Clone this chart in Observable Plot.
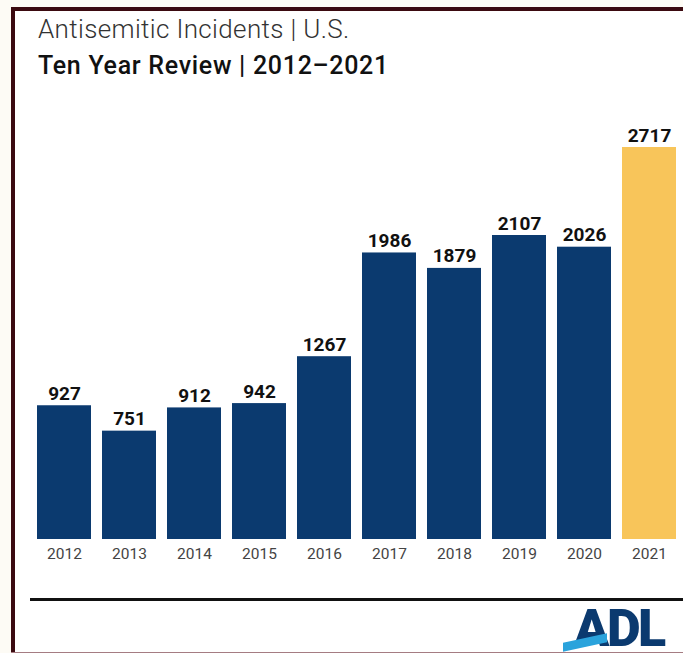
<!DOCTYPE html>
<html>
<head>
<meta charset="utf-8">
<script src="https://cdn.jsdelivr.net/npm/d3@7"></script>
<script src="https://cdn.jsdelivr.net/npm/@observablehq/plot@0.6"></script>
<style>
  html, body { margin: 0; padding: 0; }
  body { width: 683px; height: 653px; position: relative; overflow: hidden; background: #fdfbf5; font-family: Roboto, "Noto Sans", sans-serif; }
  #frame { position: absolute; left: 11px; top: 7px; right: 0; bottom: 0; background: #ffffff; border-left: 4px solid #3b0a10; border-top: 4px solid #3b0a10; }
  #bottomEdge { position: absolute; left: 11px; right: 0; top: 652px; height: 1px; background: #a57c82; z-index: 5; }
  #title { position: absolute; left: 38px; top: 16px; font-size: 26px; line-height: 26px; font-weight: 300; color: #333; letter-spacing: 0.35px; white-space: nowrap; }
  #subtitle { position: absolute; left: 38px; top: 53px; font-size: 25px; line-height: 25px; font-weight: 500; color: #111; letter-spacing: 0.7px; white-space: nowrap; }
  #chart { position: absolute; left: 0; top: 100px; }
  #rule { position: absolute; left: 30px; right: 0; top: 598px; height: 3px; background: #111; }
  #logo { position: absolute; left: 574px; top: 607px; font-size: 52px; line-height: 44px; height: 44px; font-weight: 900; color: #0b3a6f; letter-spacing: -2.5px; white-space: nowrap; font-family: Roboto, "Liberation Sans", sans-serif; }
  #slash { position: absolute; left: 563px; top: 638px; width: 44px; height: 9px; background: #2aa3dc; transform: skewY(-12deg); z-index: 2; }
</style>
</head>
<body>
<div id="frame"></div>
<div id="title">Antisemitic Incidents | U.S.</div>
<div id="subtitle">Ten Year Review | 2012–2021</div>
<div id="chart"></div>
<div id="rule"></div>
<div id="logo">ADL</div>
<div id="slash"></div>
<div id="bottomEdge"></div>
<script>
const years = ["2012", "2013", "2014", "2015", "2016", "2017", "2018", "2019", "2020", "2021"];
const incidents = [927, 751, 912, 942, 1267, 1986, 1879, 2107, 2026, 2717];
const highlightYear = "2021";

const data = years.map((year, i) => ({
  year,
  value: incidents[i],
  group: year === highlightYear ? "highlight" : "base"
}));

const chart = Plot.plot({
  width: 683,
  height: 470,
  marginLeft: 31.5,
  marginRight: 1.5,
  marginTop: 47,
  marginBottom: 31,
  style: { background: "transparent", fontFamily: "Roboto, sans-serif", overflow: "visible" },
  x: { domain: years, paddingInner: 0.17, paddingOuter: 0.085, label: null },
  y: { domain: [0, d3.max(incidents)], axis: null },
  color: { domain: ["base", "highlight"], range: ["#0b3a6f", "#f8c55a"] },
  marks: [
    Plot.barY(data, { x: "year", y: "value", fill: "group" }),
    Plot.text(data, {
      x: "year", y: "value", text: d => String(d.value),
      lineAnchor: "bottom", dy: -6,
      fontSize: 19, fontWeight: 700, fill: "#111"
    }),
    Plot.axisX({ tickSize: 0, tickPadding: 8, fontSize: 15.5, color: "#444", label: null })
  ]
});
document.getElementById("chart").appendChild(chart);
</script>
</body>
</html>
